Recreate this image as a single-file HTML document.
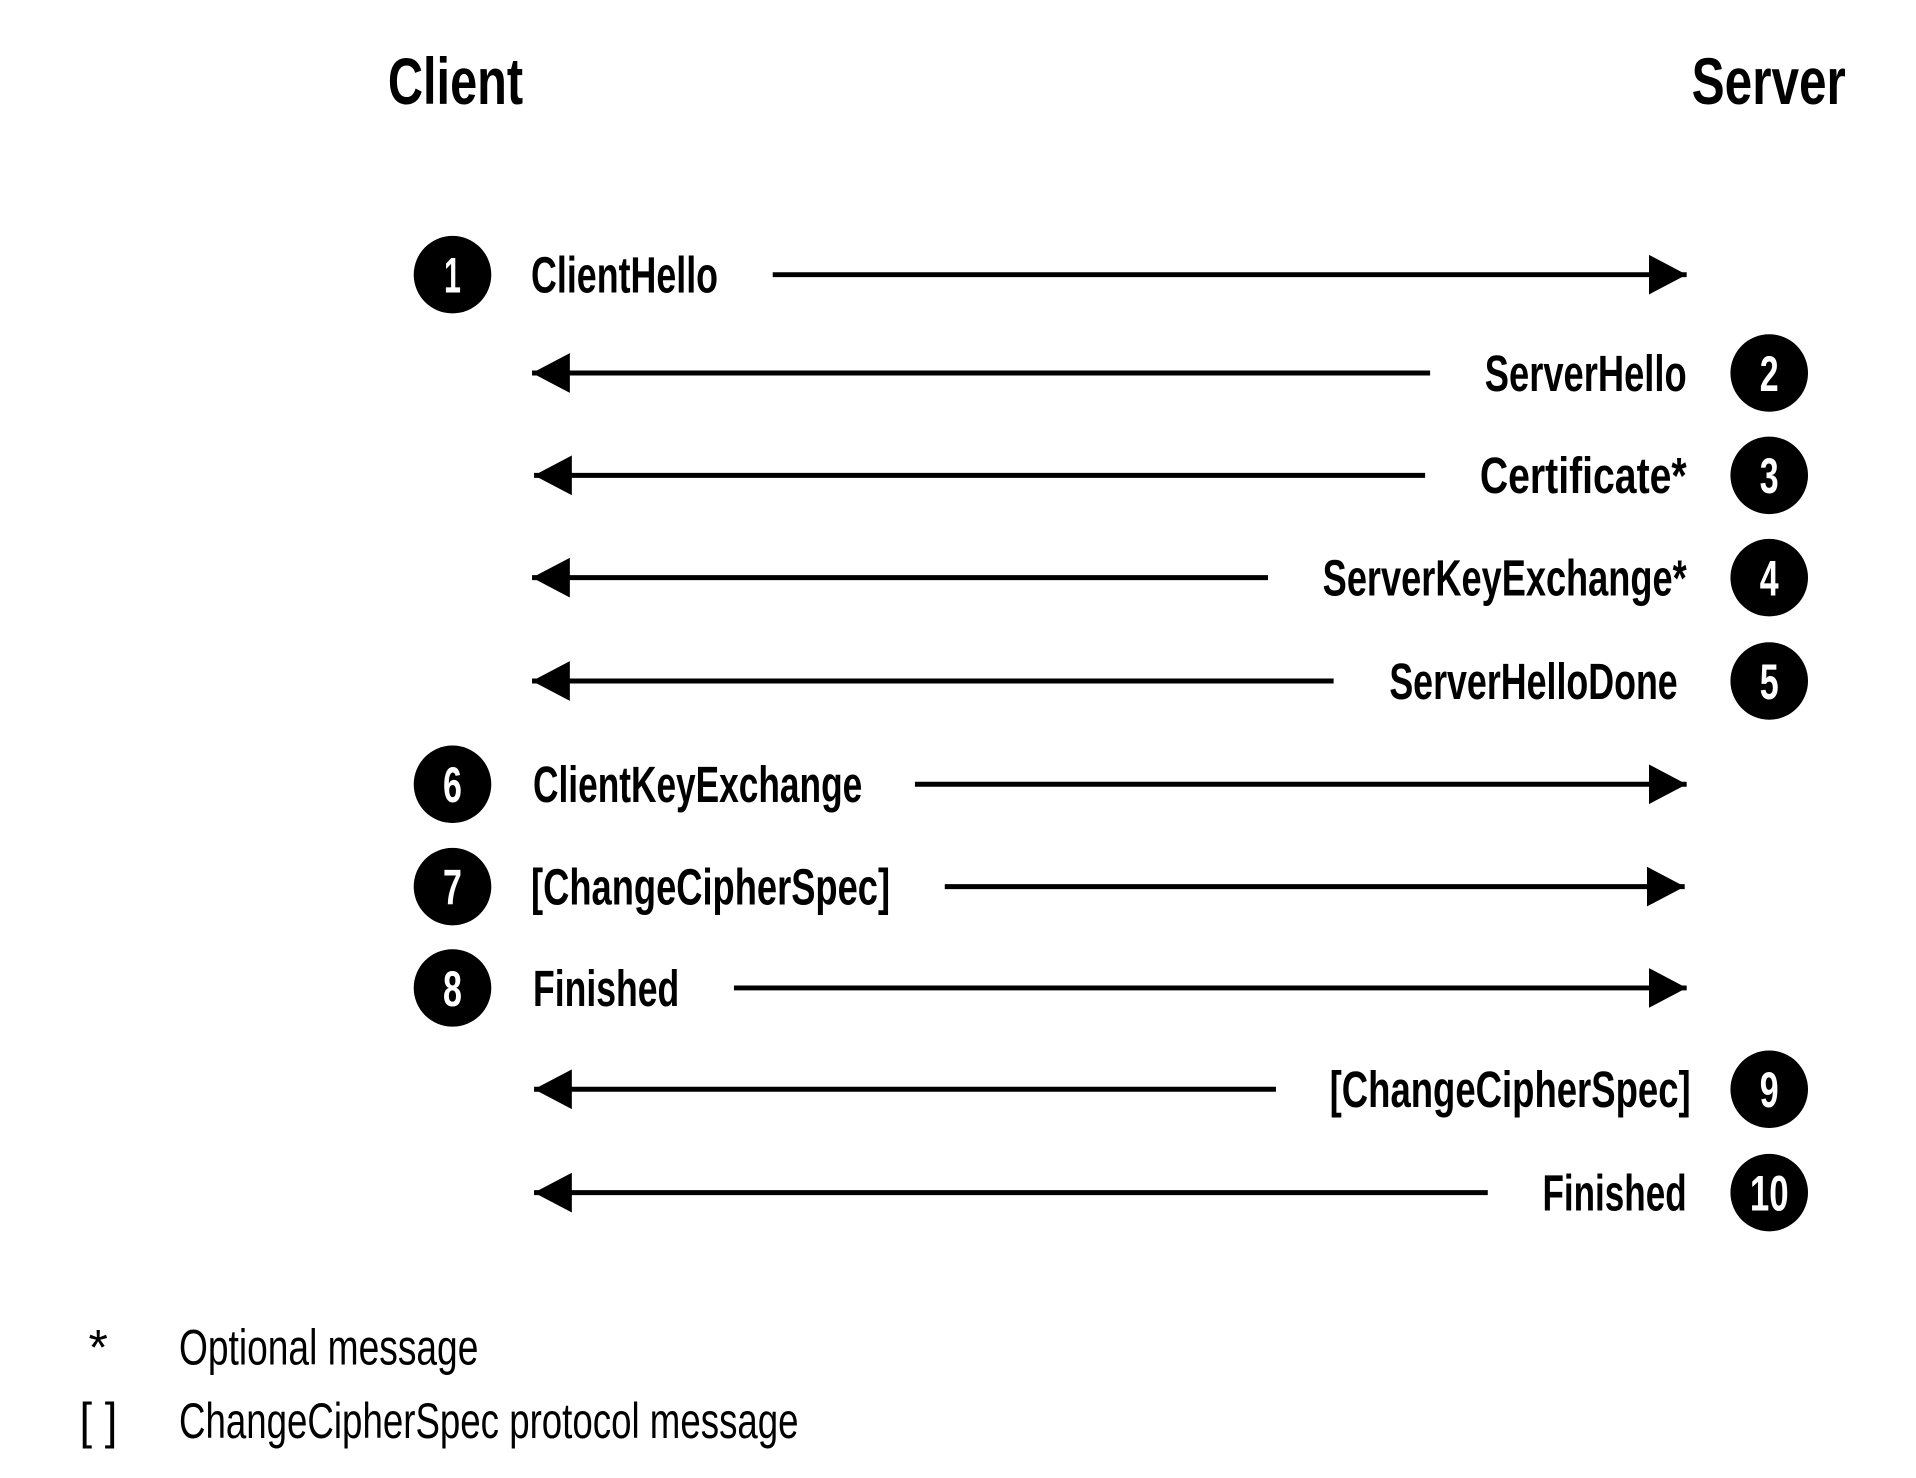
<!DOCTYPE html>
<html><head><meta charset="utf-8"><style>
html,body{margin:0;padding:0;background:#fff;}
svg{display:block;}
text{font-family:"Liberation Sans Narrow","Liberation Sans",sans-serif;}
.b{font-weight:bold;font-size:51px;}
.t{font-weight:bold;font-size:66px;}
.n{font-weight:bold;font-size:50px;fill:#fff;}
.r{font-size:50px;}
</style></head><body>
<svg width="1916" height="1478" viewBox="0 0 1916 1478" xmlns="http://www.w3.org/2000/svg">
<defs>
<marker id="ar" viewBox="0 0 38 40" refX="38" refY="20" markerWidth="38" markerHeight="40" markerUnits="userSpaceOnUse" orient="auto"><path d="M0,0 L38,20 L0,40 Z" fill="#000"/></marker>
</defs>
<g transform="translate(1,0.5) scale(0.9945,0.9934)">
<text class="t" x="389" y="104" textLength="136" lengthAdjust="spacingAndGlyphs">Client</text>
<text class="t" x="1700" y="104" textLength="155" lengthAdjust="spacingAndGlyphs">Server</text>
<g stroke="#000" stroke-width="5" fill="none">
<line x1="776" y1="276" x2="1695" y2="276" marker-end="url(#ar)"/>
<line x1="1437" y1="375" x2="534" y2="375" marker-end="url(#ar)"/>
<line x1="1432" y1="478" x2="536" y2="478" marker-end="url(#ar)"/>
<line x1="1274" y1="581" x2="534" y2="581" marker-end="url(#ar)"/>
<line x1="1340" y1="685" x2="534" y2="685" marker-end="url(#ar)"/>
<line x1="919" y1="789" x2="1695" y2="789" marker-end="url(#ar)"/>
<line x1="949" y1="892" x2="1693" y2="892" marker-end="url(#ar)"/>
<line x1="737" y1="994" x2="1695" y2="994" marker-end="url(#ar)"/>
<line x1="1282" y1="1096" x2="536" y2="1096" marker-end="url(#ar)"/>
<line x1="1495" y1="1200" x2="536" y2="1200" marker-end="url(#ar)"/>
</g>
<g fill="#000">
<circle cx="454" cy="276" r="39"/><circle cx="1778" cy="375" r="39"/><circle cx="1778" cy="478" r="39"/>
<circle cx="1778" cy="581" r="39"/><circle cx="1778" cy="685" r="39"/><circle cx="454" cy="789" r="39"/>
<circle cx="454" cy="892" r="39"/><circle cx="454" cy="994" r="39"/><circle cx="1778" cy="1096" r="39"/>
<circle cx="1778" cy="1200" r="39"/>
</g>
<g text-anchor="middle">
<text class="n" x="454" y="294" textLength="17" lengthAdjust="spacingAndGlyphs">1</text>
<text class="n" x="1778" y="393" textLength="19" lengthAdjust="spacingAndGlyphs">2</text>
<text class="n" x="1778" y="496" textLength="19" lengthAdjust="spacingAndGlyphs">3</text>
<text class="n" x="1778" y="599" textLength="19" lengthAdjust="spacingAndGlyphs">4</text>
<text class="n" x="1778" y="703" textLength="19" lengthAdjust="spacingAndGlyphs">5</text>
<text class="n" x="454" y="807" textLength="19" lengthAdjust="spacingAndGlyphs">6</text>
<text class="n" x="454" y="910" textLength="19" lengthAdjust="spacingAndGlyphs">7</text>
<text class="n" x="454" y="1012" textLength="19" lengthAdjust="spacingAndGlyphs">8</text>
<text class="n" x="1778" y="1114" textLength="19" lengthAdjust="spacingAndGlyphs">9</text>
<text class="n" x="1778" y="1218" textLength="39" lengthAdjust="spacingAndGlyphs">10</text>
</g>
<text class="b" x="533" y="294" textLength="188" lengthAdjust="spacingAndGlyphs">ClientHello</text>
<text class="b" x="1492" y="393" textLength="203" lengthAdjust="spacingAndGlyphs">ServerHello</text>
<text class="b" x="1487" y="496" textLength="208" lengthAdjust="spacingAndGlyphs">Certificate*</text>
<text class="b" x="1329" y="599" textLength="366" lengthAdjust="spacingAndGlyphs">ServerKeyExchange*</text>
<text class="b" x="1396" y="703" textLength="290" lengthAdjust="spacingAndGlyphs">ServerHelloDone</text>
<text class="b" x="535" y="807" textLength="331" lengthAdjust="spacingAndGlyphs">ClientKeyExchange</text>
<text class="b" x="533" y="910" textLength="361" lengthAdjust="spacingAndGlyphs">[ChangeCipherSpec]</text>
<text class="b" x="535" y="1012" textLength="147" lengthAdjust="spacingAndGlyphs">Finished</text>
<text class="b" x="1336" y="1114" textLength="363" lengthAdjust="spacingAndGlyphs">[ChangeCipherSpec]</text>
<text class="b" x="1550" y="1218" textLength="145" lengthAdjust="spacingAndGlyphs">Finished</text>
<text class="r" x="88" y="1373">*</text>
<text class="r" x="179" y="1373" textLength="301" lengthAdjust="spacingAndGlyphs">Optional message</text>
<text class="r" x="79" y="1447" textLength="38" lengthAdjust="spacingAndGlyphs">[ ]</text>
<text class="r" x="179" y="1447" textLength="623" lengthAdjust="spacingAndGlyphs">ChangeCipherSpec protocol message</text>
</g>
</svg>
</body></html>
